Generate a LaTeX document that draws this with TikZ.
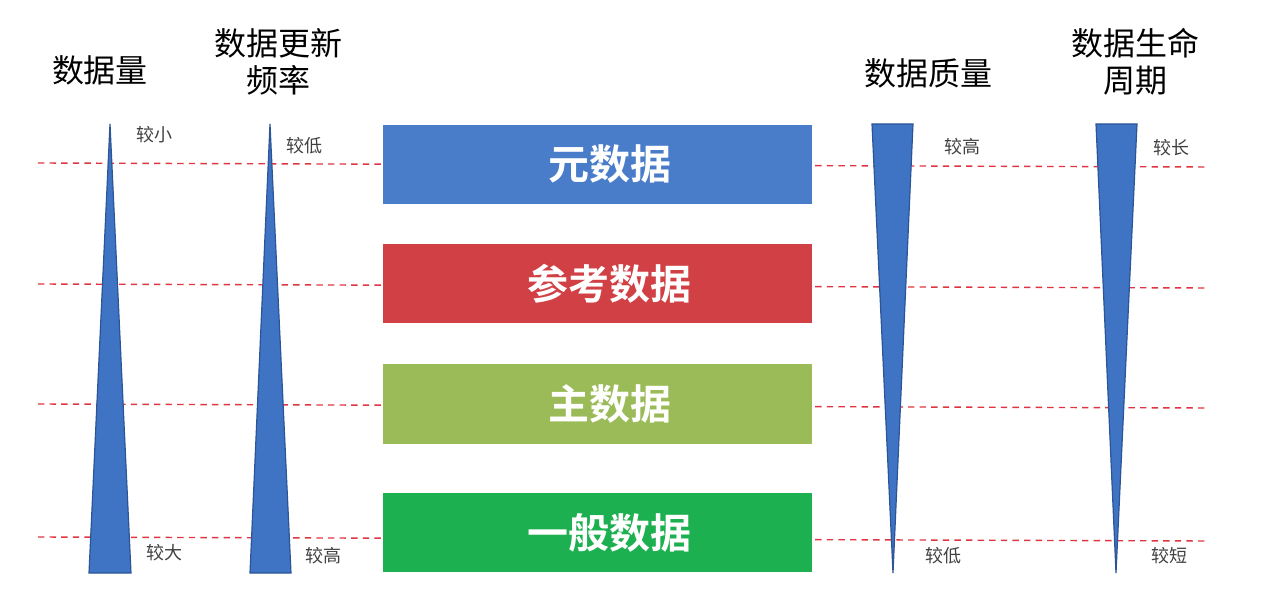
\documentclass[tikz,border=0pt]{standalone}
\usepackage{fontspec}
\newfontfamily\cjk{Noto Sans CJK SC}
\newfontfamily\cjkb{Noto Sans CJK SC Bold}
\definecolor{triblue}{HTML}{3F73C4}
\definecolor{triedge}{HTML}{2B5597}
\definecolor{bblue}{HTML}{4A7DC9}
\definecolor{bred}{HTML}{D04045}
\definecolor{blgreen}{HTML}{9BBB59}
\definecolor{bgreen}{HTML}{1DB050}
\definecolor{dashred}{HTML}{E03540}
\begin{document}
\begin{tikzpicture}[x=0.5pt,y=-0.5pt,
  tri/.style={fill=triblue,draw=triedge,line width=0.6pt,line join=miter},
  guide/.style={draw=dashred,line width=0.7pt,dash pattern=on 3.2pt off 2.6pt},
  layer/.style={minimum width=214.5pt,minimum height=39.5pt,inner sep=0pt,text=white,font=\cjkb\fontsize{20.5}{22}\selectfont},
  title/.style={font=\cjk\fontsize{16}{18.5}\selectfont,align=center,text=black},
  lbl/.style={font=\cjk\fontsize{9}{10}\selectfont,text=black!75}]
\useasboundingbox (0,0) rectangle (1286,604);
% dashed guides
\draw[guide] (38,163) -- (1207,167);
\draw[guide] (38,284) -- (1207,288);
\draw[guide] (38,404) -- (1207,408);
\draw[guide] (38,537) -- (1207,541);
% layer boxes
\node[layer,fill=bblue] (meta) at (597.5,164.5) {\hspace*{12pt}\raisebox{-1.5pt}{元数据}};
\node[layer,fill=bred] (ref) at (597.5,284) {\hspace*{12pt}\raisebox{-1.5pt}{参考数据}};
\node[layer,fill=blgreen] (master) at (597.5,404) {\hspace*{12pt}\raisebox{-1.5pt}{主数据}};
\node[layer,fill=bgreen] (general) at (597.5,532.5) {\hspace*{12pt}\raisebox{-1.5pt}{一般数据}};
% triangles
\draw[tri] (110,124) -- (131,573) -- (89,573) -- cycle;
\draw[tri] (270,124) -- (291,573) -- (250,573) -- cycle;
\draw[tri] (872,124) -- (913,124) -- (893,573) -- cycle;
\draw[tri] (1096,124) -- (1137,124) -- (1116,573) -- cycle;
% titles
\node[title] (t1) at (100,70) {数据量};
\node[title] (t2) at (278,62) {数据更新\\频率};
\node[title] (t3) at (928,73) {数据质量};
\node[title] (t4) at (1135,62) {数据生命\\周期};
% labels
\node[lbl] (l1) at (154,135) {较小};
\node[lbl] (l2) at (304,146) {较低};
\node[lbl] (l3) at (164,553) {较大};
\node[lbl] (l4) at (323,556) {较高};
\node[lbl] (r1) at (962,147) {较高};
\node[lbl] (r2) at (1171,148) {较长};
\node[lbl] (r3) at (943,556) {较低};
\node[lbl] (r4) at (1169,556) {较短};
\end{tikzpicture}
\end{document}
